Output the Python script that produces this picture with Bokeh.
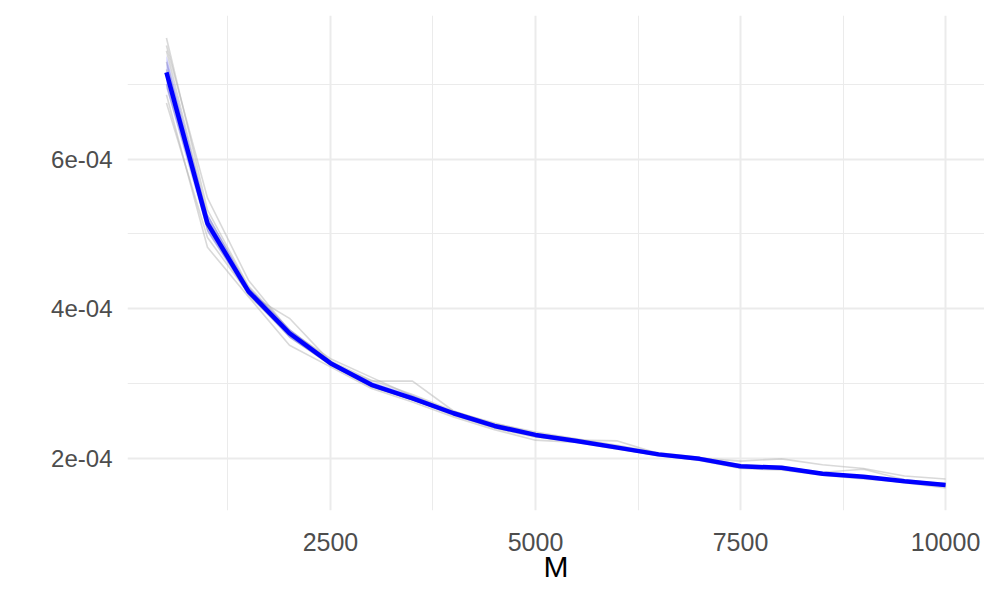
import numpy as np
from bokeh.plotting import figure
from bokeh.models import Range1d, FixedTicker, CustomJSTickFormatter
from bokeh.embed import file_html
from bokeh.resources import INLINE

# ---- data (values in units of 1e-4) ----
M = [500, 1000, 1500, 2000, 2500, 3000, 3500, 4000, 4500, 5000,
     5500, 6000, 6500, 7000, 7500, 8000, 8500, 9000, 9500, 10000]

mean_e4 = [7.16, 5.14, 4.23, 3.67, 3.27, 2.98, 2.80, 2.60, 2.43, 2.31,
           2.23, 2.14, 2.05, 1.99, 1.89, 1.87, 1.79, 1.75, 1.69, 1.64]
ribbon_lo_e4 = [6.94, 5.02, 4.18, 3.61, 3.24, 2.95, 2.77, 2.58, 2.41, 2.29,
                2.22, 2.13, 2.04, 1.98, 1.88, 1.86, 1.78, 1.74, 1.68, 1.63]
ribbon_hi_e4 = [7.39, 5.27, 4.29, 3.73, 3.30, 3.02, 2.84, 2.62, 2.45, 2.33,
                2.24, 2.16, 2.06, 2.00, 1.91, 1.89, 1.81, 1.77, 1.70, 1.66]

rep1 = [7.62, 5.32, 4.30, 3.72, 3.30, 3.04, 2.85, 2.63, 2.46, 2.35, 2.26, 2.17, 2.07, 2.01, 1.91, 1.89, 1.80, 1.76, 1.70, 1.66]
rep2 = [7.52, 5.48, 4.38, 3.70, 3.33, 3.08, 2.83, 2.62, 2.47, 2.33, 2.25, 2.16, 2.06, 2.00, 1.96, 1.99, 1.91, 1.86, 1.76, 1.72]
rep3 = [6.86, 4.82, 4.16, 3.51, 3.22, 2.93, 2.75, 2.55, 2.38, 2.24, 2.21, 2.12, 2.04, 1.97, 1.86, 1.84, 1.77, 1.72, 1.68, 1.62]
rep4 = [6.75, 4.95, 4.20, 3.87, 3.29, 2.96, 2.78, 2.58, 2.40, 2.28, 2.22, 2.13, 2.03, 1.98, 1.87, 1.85, 1.78, 1.74, 1.67, 1.60]
rep5 = [7.30, 5.20, 4.25, 3.66, 3.26, 3.03, 3.03, 2.63, 2.44, 2.32, 2.24, 2.23, 2.06, 1.99, 1.88, 1.88, 1.81, 1.85, 1.71, 1.65]
rep6 = [7.20, 5.05, 4.22, 3.62, 3.25, 2.95, 2.78, 2.59, 2.42, 2.30, 2.22, 2.14, 2.05, 1.98, 1.90, 1.86, 1.78, 1.74, 1.68, 1.63]
rep7 = [7.45, 5.25, 4.28, 3.69, 3.28, 2.99, 2.81, 2.61, 2.44, 2.32, 2.23, 2.15, 2.05, 2.00, 1.89, 1.88, 1.79, 1.75, 1.70, 1.65]
rep8 = [7.00, 5.10, 4.18, 3.64, 3.24, 2.96, 2.79, 2.57, 2.41, 2.29, 2.22, 2.13, 2.04, 1.99, 1.88, 1.86, 1.78, 1.74, 1.69, 1.63]
replicates = [rep1, rep2, rep3, rep4, rep5, rep6, rep7, rep8]

x_ticks = [2500, 5000, 7500, 10000]
x_minor = [1250, 3750, 6250, 8750]
y_ticks = [2e-4, 4e-4, 6e-4]
y_minor = [3e-4, 5e-4, 7e-4]
y_tick_labels = ["2e-04", "4e-04", "6e-04"]
x_title = "M"

S = 1e-4
mean = [v * S for v in mean_e4]
lo = [v * S for v in ribbon_lo_e4]
hi = [v * S for v in ribbon_hi_e4]
reps = [[v * S for v in r] for r in replicates]

allv = [v for r in reps for v in r] + mean + lo + hi
ymin, ymax = min(allv), max(allv)
ypad = 0.05 * (ymax - ymin)
xmin, xmax = min(M), max(M)
xpad = 0.05 * (xmax - xmin)

p = figure(width=984, height=584, output_backend="svg", toolbar_location=None,
           x_range=Range1d(xmin - xpad, xmax + xpad),
           y_range=Range1d(ymin - ypad, ymax + ypad),
           min_border_left=127, min_border_right=0, min_border_top=15, min_border_bottom=74)
p.frame_width = 857
p.frame_height = 495
p.outline_line_color = None
p.background_fill_color = "white"
p.border_fill_color = "white"

FONT = "Liberation Sans"

for ax in (p.xaxis[0], p.yaxis[0]):
    ax.axis_line_color = None
    ax.major_tick_line_color = None
    ax.minor_tick_line_color = None
    ax.major_tick_out = 0
    ax.major_tick_in = 0
    ax.minor_tick_out = 0
    ax.minor_tick_in = 0
    ax.major_label_text_font = FONT
    ax.major_label_text_color = "#4d4d4d"

p.xaxis.major_label_text_font_size = "25px"
p.yaxis.major_label_text_font_size = "24px"

p.xaxis.ticker = FixedTicker(ticks=x_ticks, minor_ticks=x_minor)
p.yaxis.ticker = FixedTicker(ticks=y_ticks, minor_ticks=y_minor)
p.yaxis.formatter = CustomJSTickFormatter(args=dict(tv=y_ticks, labels=y_tick_labels), code="""
    for (let i = 0; i < tv.length; i++) { if (Math.abs(tv[i] - tick) < 1e-9) return labels[i]; }
    return '';
""")
p.xaxis.major_label_standoff = 22
p.yaxis.major_label_standoff = 15
p.xaxis.axis_label = x_title
p.xaxis.axis_label_text_font = FONT
p.xaxis.axis_label_text_font_size = "30px"
p.xaxis.axis_label_text_font_style = "normal"
p.xaxis.axis_label_text_color = "black"
p.xaxis.axis_label_standoff = -4

for g in (p.xgrid[0], p.ygrid[0]):
    g.grid_line_color = "#ebebeb"
    g.grid_line_width = 2
    g.minor_grid_line_color = "#ebebeb"
    g.minor_grid_line_width = 1

for r in reps:
    p.line(M, r, line_color="#b3b3b3", line_alpha=0.5, line_width=1.6)

p.varea(x=M, y1=lo, y2=hi, fill_color="blue", fill_alpha=0.22)
p.line(M, mean, line_color="blue", line_width=4.5)

open("out.html", "w").write(file_html(p, INLINE))
